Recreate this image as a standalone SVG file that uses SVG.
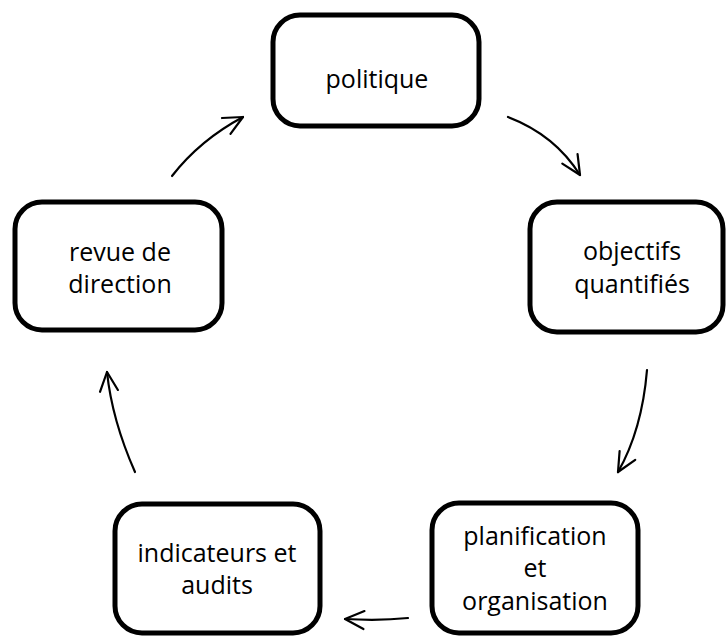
<svg xmlns="http://www.w3.org/2000/svg" width="728" height="637" viewBox="0 0 728 637">
  <style>
    .box { fill: #ffffff; stroke: #000000; stroke-width: 5; }
    .label { font-family: "Open Sans", "Noto Sans", sans-serif; font-size: 25px; fill: #000000; text-anchor: middle; }
    .arrow { fill: none; stroke: #000000; stroke-width: 2.2; stroke-linecap: round; marker-end: url(#head); }
  </style>
  <defs>
    <marker id="head" markerUnits="userSpaceOnUse" viewBox="-22 -12 24 24" refX="0" refY="0" markerWidth="24" markerHeight="24" orient="auto">
      <path d="M-19,-9 L0,0 L-19,9" fill="none" stroke="#000000" stroke-width="2.2" stroke-linecap="round" stroke-linejoin="round"/>
    </marker>
  </defs>
  <rect width="728" height="637" fill="#ffffff"/>

  <g id="connectors">
    <path class="arrow" d="M508,117 Q555,135 580,175"/>
    <path class="arrow" d="M647,370 Q642,430 618,472"/>
    <path class="arrow" d="M408,618 Q380,621 345,619"/>
    <path class="arrow" d="M135,472 Q112,420 107,372"/>
    <path class="arrow" d="M172,176 Q200,140 243,117"/>
  </g>

  <g id="politique">
    <rect class="box" x="273" y="15" width="206" height="111" rx="27" ry="27"/>
    <text class="label" x="377" y="88">politique</text>
  </g>

  <g id="objectifs">
    <rect class="box" x="530" y="202" width="193" height="130" rx="27" ry="27"/>
    <text class="label" x="632" y="260">objectifs</text>
    <text class="label" x="632" y="293">quantifiés</text>
  </g>

  <g id="planification">
    <rect class="box" x="432" y="503" width="206" height="130" rx="27" ry="27"/>
    <text class="label" x="535" y="545">planification</text>
    <text class="label" x="535" y="577">et</text>
    <text class="label" x="535" y="610">organisation</text>
  </g>

  <g id="indicateurs">
    <rect class="box" x="115" y="504" width="205" height="129" rx="27" ry="27"/>
    <text class="label" x="217" y="562">indicateurs et</text>
    <text class="label" x="217" y="594">audits</text>
  </g>

  <g id="revue">
    <rect class="box" x="15" y="202" width="207" height="128" rx="27" ry="27"/>
    <text class="label" x="120" y="261">revue de</text>
    <text class="label" x="120" y="293">direction</text>
  </g>
</svg>
